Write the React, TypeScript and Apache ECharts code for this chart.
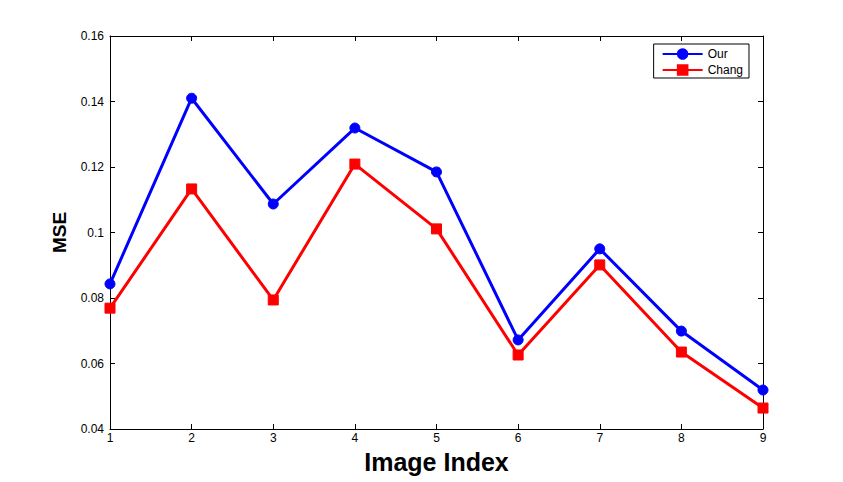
import React, { useEffect, useRef } from "react";
import * as echarts from "echarts";

const categories = ["1", "2", "3", "4", "5", "6", "7", "8", "9"];
const ourValues = [0.0843, 0.141, 0.1087, 0.1319, 0.1185, 0.0672, 0.095, 0.0699, 0.0519];
const changValues = [0.0769, 0.1133, 0.0794, 0.1209, 0.1011, 0.0626, 0.0901, 0.0635, 0.0464];
const yTicks = [0.04, 0.06, 0.08, 0.1, 0.12, 0.14, 0.16];

export default function App() {
  const ref = useRef<HTMLDivElement>(null);
  useEffect(() => {
    if (!ref.current) return;
    const chart = echarts.init(ref.current, null, { renderer: "svg" });
    const font = "Liberation Sans, Arial, sans-serif";
    const axisLine = { show: true, lineStyle: { color: "#000", width: 1 } };
    chart.setOption({
      animation: false,
      backgroundColor: "#fff",
      textStyle: { fontFamily: font },
      grid: { left: 110, right: 80, top: 36, bottom: 53, containLabel: false },
      legend: {
        right: 94,
        top: 44,
        orient: "vertical",
        data: ["Our", "Chang"],
        itemWidth: 40,
        itemHeight: 12,
        itemGap: 4,
        padding: [4, 6, 2, 8],
        borderColor: "#000",
        borderWidth: 1,
        backgroundColor: "#fff",
        textStyle: { fontSize: 12, color: "#000", fontFamily: font },
      },
      xAxis: [
        {
          type: "category",
          data: categories,
          boundaryGap: false,
          name: "Image Index",
          nameLocation: "middle",
          nameGap: 20,
          nameTextStyle: { fontSize: 25, fontWeight: "bold", color: "#000", fontFamily: font },
          axisLine,
          axisTick: { show: true, inside: true, length: 5, lineStyle: { color: "#000" } },
          axisLabel: { color: "#000", fontSize: 12, margin: 3, fontFamily: font },
          splitLine: { show: false },
        },
        {
          type: "category",
          data: categories,
          boundaryGap: false,
          position: "top",
          axisLine,
          axisTick: { show: true, inside: true, length: 5, lineStyle: { color: "#000" } },
          axisLabel: { show: false },
          splitLine: { show: false },
        },
      ],
      yAxis: [
        {
          type: "value",
          min: 0.04,
          max: 0.16,
          interval: 0.02,
          name: "MSE",
          nameLocation: "middle",
          nameGap: 41,
          nameTextStyle: { fontSize: 19, fontWeight: "bold", color: "#000", fontFamily: font },
          axisLine,
          axisTick: { show: true, inside: true, length: 5, lineStyle: { color: "#000" } },
          axisLabel: {
            color: "#000",
            fontSize: 12,
            margin: 6,
            fontFamily: font,
            formatter: (v: number) => {
              const t = yTicks.find((x) => Math.abs(x - v) < 1e-9);
              return t === undefined ? "" : String(parseFloat(t.toFixed(2)));
            },
          },
          splitLine: { show: false },
        },
        {
          type: "value",
          min: 0.04,
          max: 0.16,
          interval: 0.02,
          position: "right",
          axisLine,
          axisTick: { show: true, inside: true, length: 5, lineStyle: { color: "#000" } },
          axisLabel: { show: false },
          splitLine: { show: false },
        },
      ],
      series: [
        {
          name: "Our",
          type: "line",
          data: ourValues,
          symbol: "circle",
          symbolSize: 10,
          lineStyle: { color: "#0000ff", width: 3 },
          itemStyle: { color: "#0000ff", borderColor: "#0000ff", borderWidth: 1 },
          z: 3,
        },
        {
          name: "Chang",
          type: "line",
          data: changValues,
          symbol: "rect",
          symbolSize: 10,
          lineStyle: { color: "#ff0000", width: 3 },
          itemStyle: { color: "#ff0000", borderColor: "#ff0000", borderWidth: 1 },
          z: 2,
        },
      ],
    });
    return () => chart.dispose();
  }, []);
  return (
    <div
      ref={ref}
      style={{ position: "fixed", left: 0, top: 0, width: 843, height: 482 }}
    />
  );
}
